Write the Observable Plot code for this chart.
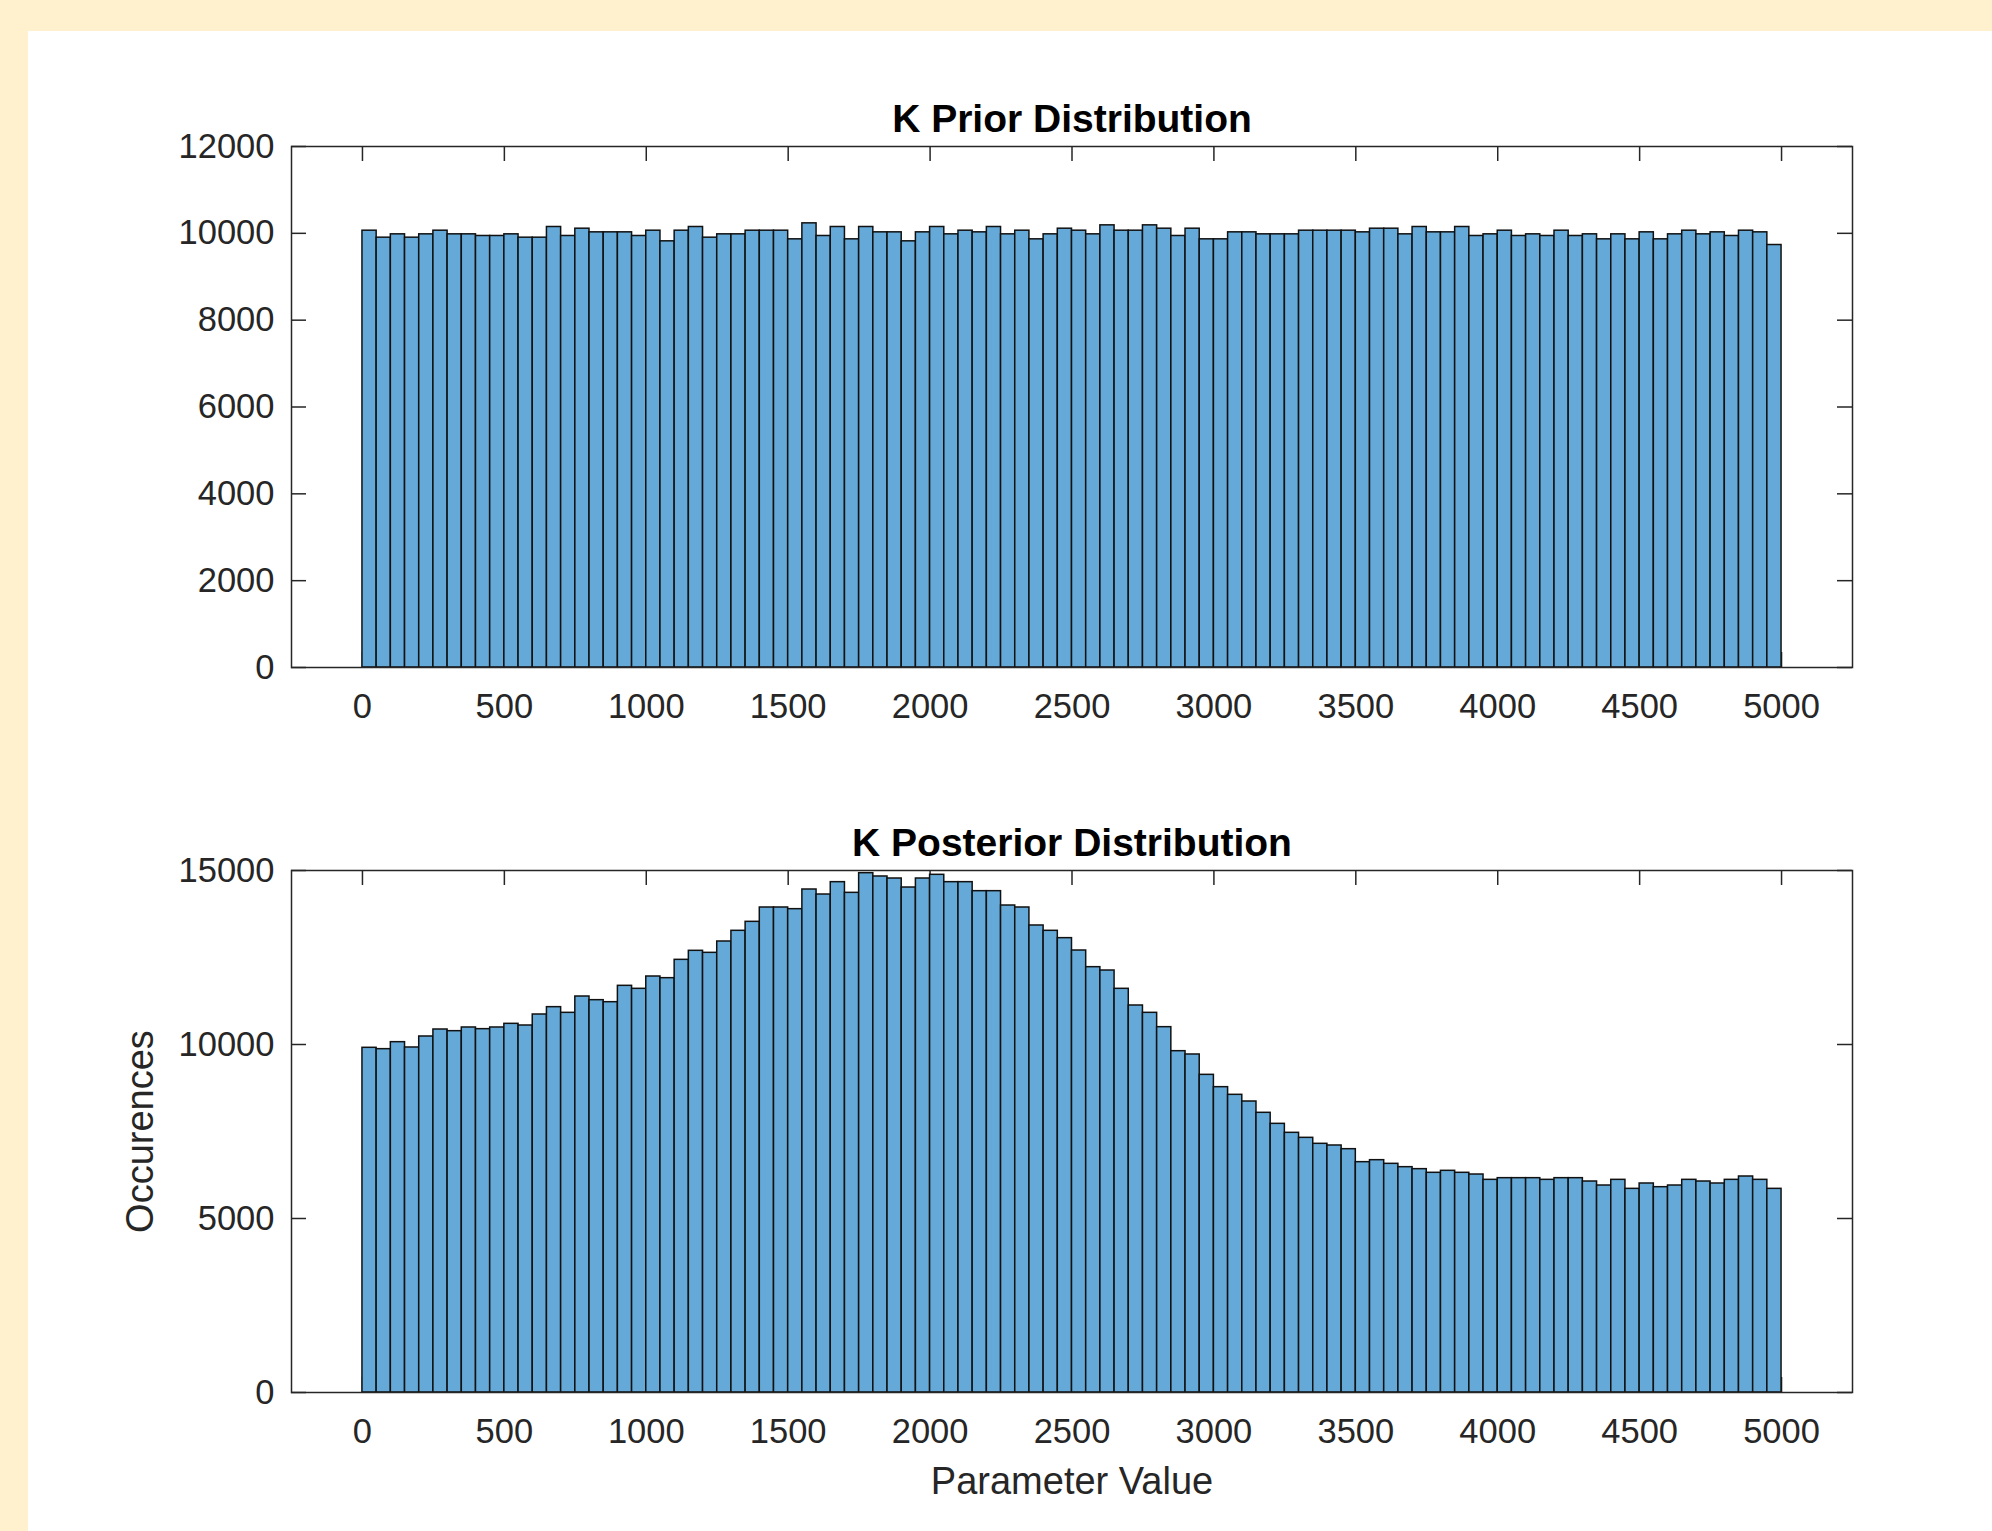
<!DOCTYPE html>
<html>
<head>
<meta charset="utf-8">
<script src="https://cdn.jsdelivr.net/npm/d3@7"></script>
<script src="https://cdn.jsdelivr.net/npm/@observablehq/plot@0.6"></script>
<style>
  html, body { margin: 0; padding: 0; background: #FFF1CE; width: 1992px; height: 1531px; overflow: hidden; }
  #panel { position: absolute; left: 28px; top: 31px; width: 1964px; height: 1500px; background: #ffffff; }
  #panel svg { display: block; }
</style>
</head>
<body>
<div id="panel"></div>
<script>
// ---- data ----
const binWidth = 50;
const binStarts = [
  0, 50, 100, 150, 200, 250, 300, 350, 400, 450,
  500, 550, 600, 650, 700, 750, 800, 850, 900, 950,
  1000, 1050, 1100, 1150, 1200, 1250, 1300, 1350, 1400, 1450,
  1500, 1550, 1600, 1650, 1700, 1750, 1800, 1850, 1900, 1950,
  2000, 2050, 2100, 2150, 2200, 2250, 2300, 2350, 2400, 2450,
  2500, 2550, 2600, 2650, 2700, 2750, 2800, 2850, 2900, 2950,
  3000, 3050, 3100, 3150, 3200, 3250, 3300, 3350, 3400, 3450,
  3500, 3550, 3600, 3650, 3700, 3750, 3800, 3850, 3900, 3950,
  4000, 4050, 4100, 4150, 4200, 4250, 4300, 4350, 4400, 4450,
  4500, 4550, 4600, 4650, 4700, 4750, 4800, 4850, 4900, 4950
];
const priorCounts = [
  10061, 9900, 9977, 9900, 9977, 10061, 9977, 9977, 9939, 9939,
  9977, 9900, 9900, 10146, 9939, 10107, 10023, 10023, 10023, 9939,
  10061, 9816, 10061, 10146, 9900, 9977, 9977, 10061, 10061, 10061,
  9862, 10230, 9939, 10146, 9862, 10146, 10023, 10023, 9816, 10023,
  10146, 9977, 10061, 10023, 10146, 9977, 10061, 9862, 9977, 10107,
  10061, 9977, 10184, 10061, 10061, 10184, 10107, 9939, 10107, 9862,
  9862, 10023, 10023, 9977, 9977, 9977, 10061, 10061, 10061, 10061,
  10023, 10107, 10107, 9977, 10146, 10023, 10023, 10146, 9939, 9977,
  10061, 9939, 9977, 9939, 10061, 9939, 9977, 9862, 9977, 9862,
  10023, 9862, 9977, 10061, 9977, 10023, 9939, 10061, 10023, 9731
];
const posteriorCounts = [
  9905, 9866, 10067, 9914, 10230, 10431, 10383, 10489, 10441, 10489,
  10594, 10546, 10862, 11073, 10910, 11379, 11274, 11216, 11686, 11600,
  11954, 11906, 12433, 12692, 12634, 12960, 13267, 13525, 13937, 13937,
  13889, 14454, 14310, 14665, 14358, 14923, 14828, 14770, 14511, 14770,
  14876, 14665, 14665, 14406, 14406, 13994, 13937, 13420, 13267, 13056,
  12701, 12222, 12126, 11600, 11121, 10910, 10498, 9808, 9713, 9128,
  8774, 8554, 8362, 8037, 7720, 7462, 7318, 7146, 7098, 6992,
  6619, 6676, 6571, 6475, 6418, 6313, 6370, 6313, 6264, 6111,
  6159, 6159, 6159, 6111, 6159, 6159, 6063, 5948, 6111, 5852,
  6006, 5900, 5948, 6111, 6063, 6006, 6111, 6207, 6111, 5852
];
const xTicks = [0, 500, 1000, 1500, 2000, 2500, 3000, 3500, 4000, 4500, 5000];
const xDomain = [-250, 5250];
const priorYTicks = [0, 2000, 4000, 6000, 8000, 10000, 12000];
const posteriorYTicks = [0, 5000, 10000, 15000];
const priorTitle = "K Prior Distribution";
const posteriorTitle = "K Posterior Distribution";
const xLabelText = "Parameter Value";
const yLabelText = "Occurences";

// ---- styling / layout ----
const W = 1964, ML = 263, MR = 140, TICK = 15;
const AX = "#262626";
const BAR = "#64A9D7";
const FONT = "'Liberation Sans', Arial, Helvetica, sans-serif";

function histPanel({counts, yMax, yTicks, title, height, marginTop, marginBottom, xLabel, yLabel}) {
  const rows = binStarts.map((x0, i) => ({x1: x0, x2: x0 + binWidth, count: counts[i]}));
  const ih = height - marginTop - marginBottom;
  const iw = W - ML - MR;
  const tickStyle = {stroke: AX, strokeWidth: 1.5};
  const marks = [
    Plot.tickX(xTicks, {x: d => d, insetTop: ih - TICK, ...tickStyle}),
    Plot.tickX(xTicks, {x: d => d, insetBottom: ih - TICK, ...tickStyle}),
    Plot.tickY(yTicks, {y: d => d, insetRight: iw - TICK, ...tickStyle}),
    Plot.tickY(yTicks, {y: d => d, insetLeft: iw - TICK, ...tickStyle}),
    Plot.rectY(rows, {x1: "x1", x2: "x2", y: "count", fill: BAR, stroke: "#111", strokeWidth: 1.5}),
    Plot.frame({stroke: AX, strokeWidth: 1.5}),
    Plot.axisX(xTicks, {anchor: "bottom", tickSize: 0, tickPadding: 26, fontSize: 34.5, fill: AX, label: null, tickFormat: d => String(d)}),
    Plot.axisY(yTicks, {anchor: "left", tickSize: 0, tickPadding: 17, fontSize: 34.5, fill: AX, label: null, tickFormat: d => String(d)}),
    Plot.text([title], {frameAnchor: "top", lineAnchor: "bottom", dy: -15, fontSize: 39, fontWeight: "bold", fill: "#000"})
  ];
  if (xLabel) marks.push(Plot.text([xLabel], {frameAnchor: "bottom", lineAnchor: "bottom", textAnchor: "middle", dy: 101, fontSize: 38, fill: AX}));
  if (yLabel) marks.push(Plot.text([yLabel], {frameAnchor: "left", lineAnchor: "bottom", textAnchor: "middle", rotate: -90, dx: -139, fontSize: 38, fill: AX}));
  return Plot.plot({
    width: W,
    height,
    marginLeft: ML,
    marginRight: MR,
    marginTop,
    marginBottom,
    style: {fontFamily: FONT, background: "white", overflow: "visible"},
    x: {domain: xDomain, label: null},
    y: {domain: [0, yMax], label: null},
    marks
  });
}

const panel = document.getElementById("panel");
panel.appendChild(histPanel({
  counts: priorCounts, yMax: 12000, yTicks: priorYTicks, title: priorTitle,
  height: 729, marginTop: 115, marginBottom: 93
}));
panel.appendChild(histPanel({
  counts: posteriorCounts, yMax: 15000, yTicks: posteriorYTicks, title: posteriorTitle,
  height: 771, marginTop: 110, marginBottom: 139, xLabel: xLabelText, yLabel: yLabelText
}));
</script>
</body>
</html>
